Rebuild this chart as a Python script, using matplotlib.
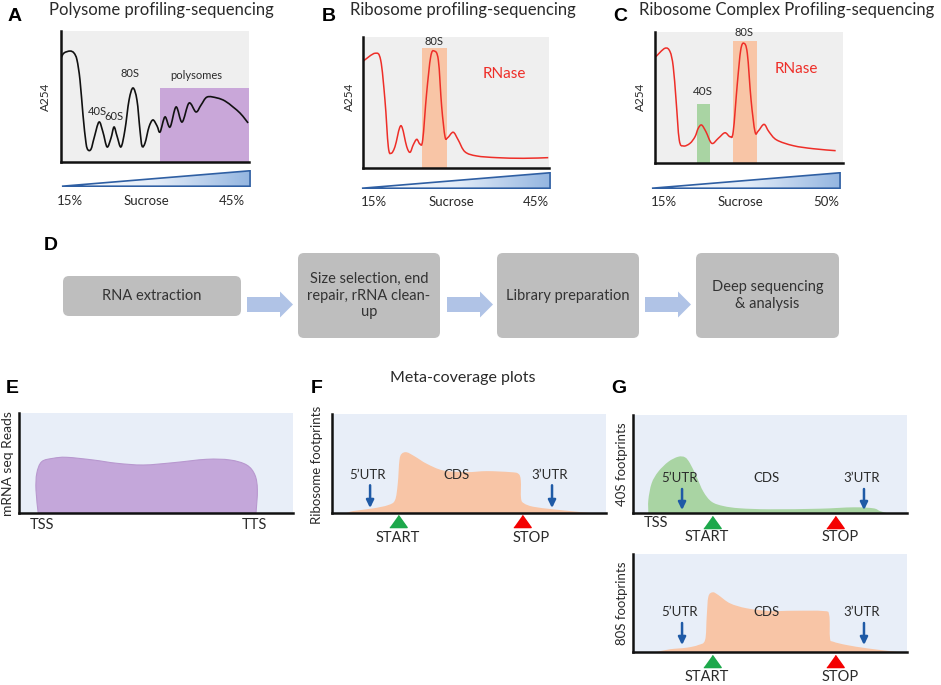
import numpy as np
import matplotlib
matplotlib.use('Agg')
import matplotlib.pyplot as plt
from matplotlib.path import Path
from matplotlib.patches import PathPatch, Rectangle, FancyBboxPatch, FancyArrow, Polygon
from matplotlib.colors import LinearSegmentedColormap

W, H = 941, 685
plt.rcParams['font.family'] = ['Lato', 'DejaVu Sans']

# ---------------- data ----------------
# Panel A: polysome profile (x: gradient position 0-100, y: A254 0-100)
a_x = [0, 1.6, 4.8, 6.9, 8.5, 10.1, 11.7, 13.3, 14.4, 16.0, 17.6, 20.2, 22.3, 24.5, 26.6, 28.2,
       29.8, 31.9, 34.0, 36.2, 38.3, 40.4, 42.0, 43.1, 44.7, 46.8, 48.9, 51.1, 52.7, 55.3, 58.0,
       61.2, 64.4, 68.1, 71.8, 74.5, 77.7, 83.0, 87.2, 91.5, 95.2, 97.9, 99.5]
a_y = [79.4, 83.2, 84.7, 83.2, 77.9, 62.6, 35.9, 14.5, 9.2, 9.9, 18.3, 30.5, 22.9, 11.5, 18.3, 26.7,
       19.8, 11.5, 24.4, 47.3, 56.5, 47.3, 24.4, 12.2, 14.5, 26.7, 32.1, 27.5, 22.9, 34.4, 26.7,
       42.0, 30.5, 45.0, 38.2, 43.5, 49.6, 48.9, 46.6, 42.0, 37.4, 32.8, 29.8]
a_polysome_span = (52.7, 100.0)
a_polysome_top = 56.5
a_labels = [("40S", 19.1, 38.2), ("60S", 28.2, 34.4), ("80S", 36.7, 67.9), ("polysomes", 71.8, 66.4)]

# Panel B: ribosome profile after RNase
b_x = [0.2, 6.5, 9.5, 11.8, 13.6, 15.1, 17.2, 20.4, 23.5, 25.3, 27.0, 28.9, 30.6, 32.1, 34.2,
       36.4, 38.3, 40.5, 42.3, 44.1, 45.5, 48.5, 51.2, 54.8, 61.1, 71.9, 86.2, 99.6]
b_y = [81.7, 87.6, 82.4, 51.9, 16.3, 11.2, 16.3, 32.3, 16.3, 12.0, 17.6, 21.9, 18.3, 21.4, 57.0,
       85.0, 89.3, 82.4, 46.8, 23.9, 23.1, 27.3, 21.4, 12.4, 9.2, 7.9, 7.4, 7.9]
b_80s_span = (31.7, 45.2)
b_80s_top = 91.6

# Panel C: ribosome complex profile
c_x = [0.4, 5.3, 8.0, 9.7, 11.2, 12.9, 15.1, 18.6, 21.3, 23.0, 24.8, 27.1, 30.2, 33.7, 37.2,
       39.9, 41.6, 43.8, 45.6, 47.3, 49.1, 51.1, 53.2, 54.9, 58.0, 60.6, 64.7, 73.6, 84.2, 96.1]
c_y = [81.1, 87.6, 85.0, 73.5, 48.1, 17.6, 13.0, 15.0, 20.1, 26.5, 29.0, 23.9, 15.0, 18.9, 23.1,
       20.1, 23.9, 60.8, 86.3, 91.4, 83.7, 48.1, 23.9, 24.4, 29.5, 23.9, 17.6, 13.2, 10.9, 9.4]
c_40s_span = (22.3, 29.3)
c_40s_top = 45.0
c_80s_span = (41.5, 54.3)
c_80s_top = 93.1

# Panel E: mRNA-seq meta coverage
e_x = [7.0, 6.2, 6.5, 8.3, 12.5, 17.4, 27.1, 35.7, 45.4, 56.3, 68.5, 77.0, 83.1, 86.1, 87.0, 86.5]
e_y = [0, 23, 39.7, 51.3, 54.7, 55.7, 53, 49.7, 48, 50.3, 53.7, 53, 48, 38, 23, 0]

# Panel F: ribosome footprints
f_x = [5.4, 7.8, 15.1, 20.5, 23.0, 24.0, 24.6, 25.4, 27.3, 30.3, 34.6, 40.6, 49.2, 56.5, 65.0,
       68.0, 68.9, 69.0, 70.1, 73.5, 80.8, 89.3, 94.2]
f_y = [0, 2, 4.7, 8, 13, 29.7, 53, 59.7, 61.3, 57, 49.7, 43, 41.3, 42.3, 41.3,
       39.7, 33, 14.7, 9.7, 6.3, 3.7, 1.3, 0]

# Panel G: 40S and 80S footprints
g40_x = [5.6, 5.6, 6.8, 9.2, 12.9, 16.5, 19.0, 20.8, 23.2, 25.7, 28.7, 33.0, 39.1, 50.0, 68.2,
         80.4, 87.7, 90.1, 92.6]
g40_y = [0, 13.3, 30.3, 42.1, 52.3, 57.4, 56.8, 50.7, 37, 21.7, 11.5, 7.1, 4.8, 3.8, 4.4,
         5.8, 4.8, 2, 0]
g80_x = [8.6, 13.5, 19.6, 23.8, 26.3, 26.9, 27.5, 29.1, 31.1, 35.4, 41.5, 50.0, 58.5, 69.5,
         71.6, 71.9, 73.1, 78.0, 85.3, 92.6, 96.8]
g80_y = [0, 2.8, 4.4, 7.1, 12.2, 36, 56.4, 60.9, 58.2, 49.7, 44.6, 41.8, 42.1, 41.8,
         37.8, 14, 10.5, 7.1, 3.8, 1.3, 0]

# annotation positions (data units of each panel)
f_start, f_stop = 24.1, 69.3
g_start, g_stop = 28.8, 73.7

flow_steps = ["RNA extraction", "Size selection, end\nrepair, rRNA clean-\nup",
              "Library preparation", "Deep sequencing\n& analysis"]

# ---------------- styles ----------------
GRAY_BG = '#EFEFEF'
BLUE_BG = '#E8EEF8'
PURPLE = '#C9A7D9'
PURPLE_E = '#C4A7DA'
ORANGE = '#F8C5A6'
GREEN = '#A9D4A3'
RED = '#EE2E28'
ARROW_BLUE = '#1F5AA6'
TXT = '#2A2A2A'
LETTER_FONT = ['Liberation Sans', 'DejaVu Sans']

fig = plt.figure(figsize=(W / 100, H / 100), dpi=100)


def px_axes(x0, y0, x1, y1, zorder=1):
    ax = fig.add_axes([x0 / W, 1 - y1 / H, (x1 - x0) / W, (y1 - y0) / H], zorder=zorder)
    return ax


def style_panel(ax, bg):
    ax.set_facecolor(bg)
    ax.set_xlim(0, 100)
    ax.set_ylim(0, 100)
    ax.set_xticks([])
    ax.set_yticks([])
    for s in ('top', 'right'):
        ax.spines[s].set_visible(False)
    for s in ('left', 'bottom'):
        ax.spines[s].set_linewidth(1.8)
        ax.spines[s].set_color('#111111')
        ax.spines[s].set_zorder(5)


def cr_path(x, y, closed=False):
    P = np.column_stack([x, y]).astype(float)
    n = len(P)
    verts = [P[0]]
    codes = [Path.MOVETO]
    for i in range(n - 1):
        p0 = P[max(i - 1, 0)]
        p1 = P[i]
        p2 = P[i + 1]
        p3 = P[min(i + 2, n - 1)]
        verts += [p1 + (p2 - p0) / 6.0, p2 - (p3 - p1) / 6.0, p2]
        codes += [Path.CURVE4] * 3
    if closed:
        verts += [P[0], P[0]]
        codes += [Path.LINETO, Path.CLOSEPOLY]
    return Path(verts, codes)


# overlay in pixel coordinates for free text / flow chart
ov = fig.add_axes([0, 0, 1, 1], zorder=10)
ov.set_xlim(0, W)
ov.set_ylim(H, 0)
ov.axis('off')
ov.patch.set_alpha(0)


def T(x, y, s, size, **kw):
    kw.setdefault('color', TXT)
    ov.text(x, y, s, fontsize=size, ha=kw.pop('ha', 'center'), va=kw.pop('va', 'center'), **kw)


def letter(x, y, s):
    ov.text(x, y, s, fontsize=14, fontweight='bold', family=LETTER_FONT, color='black',
            ha='center', va='center')


def grad_triangle(x0, x1, ytop, ybot):
    ax = px_axes(x0 - 1, ytop - 1, x1 + 1, ybot + 1)
    ax.set_xlim(-0.005, 1.005)
    ax.set_ylim(-0.05, 1.05)
    ax.axis('off')
    cmap = LinearSegmentedColormap.from_list('g', ['#FFFFFF', '#E3ECF8', '#93B5E0'])
    im = ax.imshow(np.linspace(0, 1, 256)[None, :], extent=[0, 1, 0, 1], aspect='auto',
                   cmap=cmap, origin='lower')
    tri = Polygon([[0, 0], [1, 0], [1, 1]], closed=True, facecolor='none',
                  edgecolor='#2F5FA3', lw=1.2, transform=ax.transData)
    ax.add_patch(tri)
    im.set_clip_path(tri)


# ---------------- Panel A ----------------
axA = px_axes(61, 31, 249, 162)
style_panel(axA, GRAY_BG)
axA.add_patch(Rectangle((a_polysome_span[0], 0), a_polysome_span[1] - a_polysome_span[0],
                        a_polysome_top, facecolor=PURPLE, edgecolor='none', zorder=1))
axA.add_patch(PathPatch(cr_path(a_x, a_y), fill=False, edgecolor='#111111', lw=1.2, zorder=3))
for s, x, y in a_labels:
    axA.text(x, y, s, fontsize=8, ha='center', va='center', color=TXT, zorder=4)
letter(15, 16, 'A')
T(161, 10, 'Polysome profiling-sequencing', 12)
T(45, 97, 'A254', 8.5, rotation=90)
grad_triangle(62, 250, 171, 186)
T(70, 201, '15%', 9.5)
T(146, 201, 'Sucrose', 9.5)
T(232, 201, '45%', 9.5)

# ---------------- Panel B ----------------
axB = px_axes(363, 37, 549, 168)
style_panel(axB, GRAY_BG)
axB.add_patch(Rectangle((b_80s_span[0], 0), b_80s_span[1] - b_80s_span[0], b_80s_top,
                        facecolor=ORANGE, edgecolor='none', zorder=1))
axB.add_patch(PathPatch(cr_path(b_x, b_y), fill=False, edgecolor=RED, lw=1.1, zorder=3))
axB.text(38.2, 96.2, '80S', fontsize=8, ha='center', va='center', color=TXT)
axB.text(75.8, 71.8, 'RNase', fontsize=11, ha='center', va='center', color=RED)
letter(329, 16, 'B')
T(463, 10, 'Ribosome profiling-sequencing', 12)
T(349, 97, 'A254', 8.5, rotation=90)
grad_triangle(362, 550, 173, 188)
T(374, 202, '15%', 9.5)
T(451, 202, 'Sucrose', 9.5)
T(536, 202, '45%', 9.5)

# ---------------- Panel C ----------------
axC = px_axes(655, 32, 843, 163)
style_panel(axC, GRAY_BG)
axC.add_patch(Rectangle((c_40s_span[0], 0), c_40s_span[1] - c_40s_span[0], c_40s_top,
                        facecolor=GREEN, edgecolor='none', zorder=1))
axC.add_patch(Rectangle((c_80s_span[0], 0), c_80s_span[1] - c_80s_span[0], c_80s_top,
                        facecolor=ORANGE, edgecolor='none', zorder=1))
axC.add_patch(PathPatch(cr_path(c_x, c_y), fill=False, edgecolor=RED, lw=1.1, zorder=3))
axC.text(47.3, 99.5, '80S', fontsize=8, ha='center', va='center', color=TXT)
axC.text(25.5, 54.5, '40S', fontsize=8.5, ha='center', va='center', color=TXT)
axC.text(75, 71.8, 'RNase', fontsize=11, ha='center', va='center', color=RED)
letter(620, 16, 'C')
T(787, 10, 'Ribosome Complex Profiling-sequencing', 12)
T(640, 97, 'A254', 8.5, rotation=90)
grad_triangle(652, 840, 173, 188)
T(664, 202, '15%', 9.5)
T(740, 202, 'Sucrose', 9.5)
T(826, 202, '50%', 9.5)

# ---------------- Panel D (workflow) ----------------
letter(51, 245, 'D')
boxes = [(63, 276, 241, 316), (298, 253, 440, 338), (497, 253, 639, 338), (696, 253, 839, 338)]
for (x0, y0, x1, y1), s in zip(boxes, flow_steps):
    ov.add_patch(FancyBboxPatch((x0, y0), x1 - x0, y1 - y0,
                                boxstyle='round,pad=0,rounding_size=6',
                                facecolor='#BEBEBE', edgecolor='none'))
    T((x0 + x1) / 2, (y0 + y1) / 2, s, 10.5, color='#333333', linespacing=1.25,
      multialignment='center')
for xa in (247, 447, 645):
    ov.add_patch(FancyArrow(xa, 304.5, 46, 0, width=15, head_width=26, head_length=13,
                            length_includes_head=True, facecolor='#B0C3E6', edgecolor='none'))


def arrow_down(ax, x, y0, y1):
    ax.annotate('', xy=(x, y1), xytext=(x, y0),
                arrowprops=dict(arrowstyle='-|>,head_length=0.45,head_width=0.22',
                                color=ARROW_BLUE, lw=1.8, shrinkA=0, shrinkB=0), zorder=6)


tri_marker = [(-1, -0.7), (1, -0.7), (0, 0.7)]


def start_stop(ax, xs, xp, ytri, ytxt, xs_txt, xp_txt):
    ax.plot([xs], [ytri], ls='none', marker=tri_marker, ms=12.5, color='#1DA84B',
            clip_on=False, zorder=6)
    ax.plot([xp], [ytri], ls='none', marker=tri_marker, ms=12.5, color='#F40000',
            clip_on=False, zorder=6)
    ax.text(xs_txt, ytxt, 'START', fontsize=10.5, ha='center', va='center', color=TXT)
    ax.text(xp_txt, ytxt, 'STOP', fontsize=10.5, ha='center', va='center', color=TXT)


def utr_labels(ax, y_lab, y_a0, y_a1, x5, xc, x3, xa5, xa3):
    ax.text(x5, y_lab, '5\u2019UTR', fontsize=9.5, ha='center', va='center', color=TXT, zorder=7)
    ax.text(xc, y_lab, 'CDS', fontsize=9.5, ha='center', va='center', color=TXT, zorder=7)
    ax.text(x3, y_lab, '3\u2019UTR', fontsize=9.5, ha='center', va='center', color=TXT, zorder=7)
    arrow_down(ax, xa5, y_a0, y_a1)
    arrow_down(ax, xa3, y_a0, y_a1)


# ---------------- Panel E ----------------
axE = px_axes(19, 413, 293, 513)
style_panel(axE, BLUE_BG)
axE.add_patch(PathPatch(cr_path(e_x, e_y, closed=True), facecolor=PURPLE_E,
                        edgecolor='#B898CF', lw=0.8, zorder=2))
axE.text(8.4, -12, 'TSS', fontsize=10.5, ha='center', va='center', color=TXT)
axE.text(85.8, -12, 'TTS', fontsize=10.5, ha='center', va='center', color=TXT)
letter(12, 388, 'E')
T(8, 464, 'mRNA seq Reads', 10, rotation=90)

# ---------------- Panel F ----------------
axF = px_axes(332, 414, 606, 513)
style_panel(axF, BLUE_BG)
axF.add_patch(PathPatch(cr_path(f_x, f_y, closed=True), facecolor=ORANGE,
                        edgecolor='none', zorder=2))
utr_labels(axF, 38, 28, 5, 13.1, 45.3, 79.6, 13.9, 80.3)
start_stop(axF, f_start, f_stop, -8, -25, 24.1, 72.6)
letter(317, 388, 'F')
T(463, 378, 'Meta-coverage plots', 11.5)
T(317, 465, 'Ribosome footprints', 9.5, rotation=90)

# ---------------- Panel G ----------------
axG1 = px_axes(633, 415, 907, 513)
style_panel(axG1, BLUE_BG)
axG1.add_patch(PathPatch(cr_path(g40_x, g40_y, closed=True), facecolor=GREEN,
                         edgecolor='none', zorder=2))
utr_labels(axG1, 35.7, 24.5, 3, 16.8, 48.9, 83.6, 17.9, 84.3)
start_stop(axG1, g_start, g_stop, -8.7, -24.5, 27.0, 75.5)
axG1.text(8.4, -10.2, 'TSS', fontsize=10.5, ha='center', va='center', color=TXT)
letter(619, 388, 'G')
T(622, 464, '40S footprints', 9.5, rotation=90)

axG2 = px_axes(633, 554, 907, 652)
style_panel(axG2, BLUE_BG)
axG2.add_patch(PathPatch(cr_path(g80_x, g80_y, closed=True), facecolor=ORANGE,
                         edgecolor='none', zorder=2))
utr_labels(axG2, 40.8, 29.6, 7.1, 16.8, 48.9, 83.6, 17.9, 84.3)
start_stop(axG2, g_start, g_stop, -9.2, -25.5, 27.0, 75.5)
T(622, 603, '80S footprints', 9.5, rotation=90)

fig.savefig('out.png', dpi=100)
